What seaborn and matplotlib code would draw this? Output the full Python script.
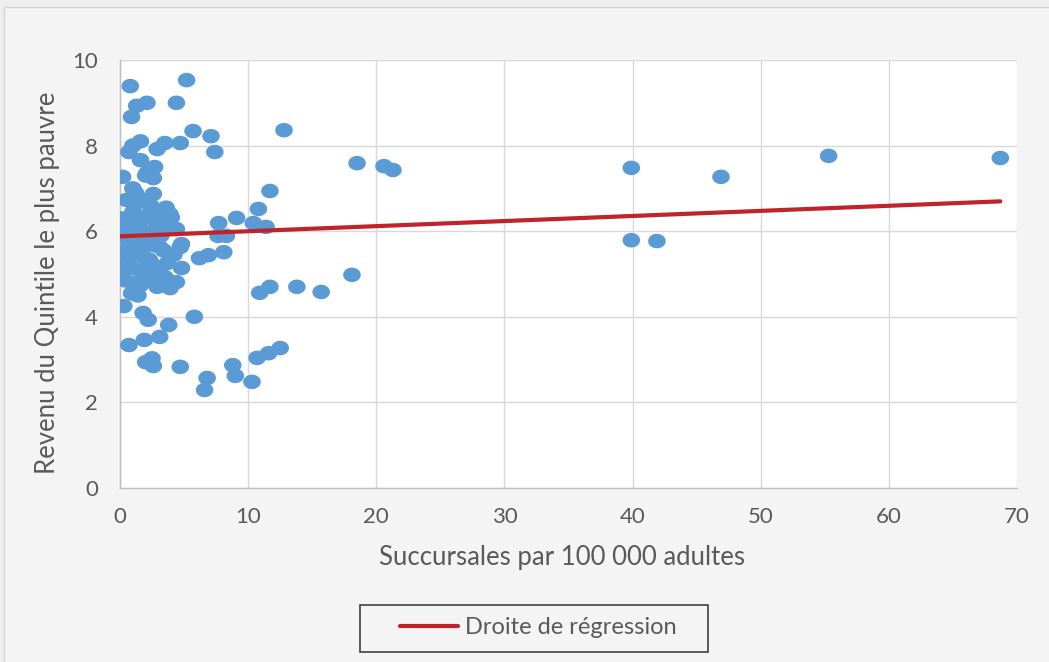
import numpy as np
import matplotlib
matplotlib.use("Agg")
import matplotlib.pyplot as plt
import seaborn as sns
from matplotlib.patches import Rectangle

# ---- data ----
branches = [
    68.7, 55.3, 46.9, 39.9, 39.9, 41.9, 20.6, 21.3, 18.5, 18.1,
    12.8, 11.7, 10.8, 10.4, 11.4, 13.8, 15.7, 11.7, 10.9, 12.5,
    11.6, 10.7, 10.3, 8.8, 9.0, 6.6, 6.8, 4.7, 5.8, 3.1,
    3.8, 1.9, 0.7, 1.8, 2.2, 0.3, 2.5, 2.6, 2.0,
    0.8, 5.2, 4.4, 2.1, 1.3, 0.9, 5.7, 7.1, 7.4, 1.6,
    1.0, 0.7, 3.5, 4.7, 2.9, 1.6, 2.1, 2.7, 2.6, 2.0,
    0.2, 1.0, 2.6, 9.1, 7.7, 0.5, 1.3, 1.8,
    8.3, 7.65, 8.1, 6.9, 6.2, 4.7, 4.8,
    0.2, 0.4, 0.4, 0.2, 0.5, 0.2, 0.2, 0.4, 1.3, 1.6,
    1.4, 2.9, 3.9, 4.4, 3.5, 1.8, 1.0, 2.3, 3.7, 1.2,
    1.8, 3.1, 2.0, 2.7, 1.0, 1.6, 2.3, 3.1, 3.9, 4.4,
    2.0, 2.9, 3.5, 1.4, 0.8, 2.5, 3.3, 4.0, 1.1, 1.7,
    2.5, 3.2, 0.7, 1.5, 2.6, 3.0, 4.2, 3.4, 2.2, 0.9,
    4.8, 1.2, 2.4, 3.6,
]
income = [
    7.71, 7.76, 7.27, 7.48, 5.79, 5.77, 7.52, 7.43, 7.59, 4.98,
    8.36, 6.94, 6.52, 6.19, 6.10, 4.70, 4.58, 4.70, 4.56, 3.27,
    3.15, 3.04, 2.48, 2.87, 2.62, 2.29, 2.57, 2.83, 4.00, 3.53,
    3.81, 3.46, 3.34, 4.09, 3.93, 4.25, 3.03, 2.85, 2.94,
    9.39, 9.53, 9.00, 9.00, 8.93, 8.67, 8.34, 8.22, 7.85, 8.10,
    8.00, 7.85, 8.06, 8.06, 7.92, 7.66, 7.36, 7.50, 7.24, 7.30,
    7.27, 7.00, 6.87, 6.31, 6.19, 6.73, 6.66, 6.73,
    5.89, 5.89, 5.51, 5.44, 5.37, 5.63, 5.14,
    6.30, 6.03, 5.84, 5.95, 5.56, 5.21, 4.90, 4.85, 4.81, 4.74,
    4.50, 4.70, 4.67, 4.81, 4.93, 5.09, 5.14, 5.33, 5.26, 5.60,
    5.63, 5.63, 5.37, 5.67, 6.45, 6.26, 6.42, 6.47, 6.40, 6.05,
    5.98, 6.07, 6.17, 6.13, 6.20, 6.30, 6.28, 6.32, 5.83, 5.80,
    5.85, 5.90, 5.40, 5.45, 5.20, 5.00, 5.45, 5.55, 4.85, 4.55,
    5.70, 6.90, 6.60, 6.55,
]
reg_intercept = 5.88
reg_slope = 0.0119
reg_x_range = [0.0, 68.7]

x_ticks = [0, 10, 20, 30, 40, 50, 60, 70]
y_ticks = [0, 2, 4, 6, 8, 10]
x_label = "Succursales par 100 000 adultes"
y_label = "Revenu du Quintile le plus pauvre"
legend_label = "Droite de régression"

# ---- style ----
sns.set_theme(style="white")
plt.rcParams["font.family"] = ["Lato", "DejaVu Sans"]
text_col = "#595959"

fig = plt.figure(figsize=(10.49, 6.62), dpi=100, facecolor="#eeeeee")
W, H = 1049, 662
bg = Rectangle((4 / W, -0.1), 1.2, 0.1 + (H - 7) / H, transform=fig.transFigure,
               facecolor="#f4f4f4", edgecolor="#d4d4d4", lw=1.0, zorder=-10)
fig.add_artist(bg)

ax = fig.add_axes([120 / W, 1 - 488 / H, (1017 - 120) / W, (488 - 60) / H])
ax.set_zorder(1)
ax.set_facecolor("white")

t = np.linspace(0, 2 * np.pi, 60)
ellipse = list(zip(1.21 * np.cos(t), np.sin(t)))

sns.scatterplot(x=branches, y=income, ax=ax, color="#5B9BD5", s=160,
                marker=ellipse, edgecolor="none", linewidth=0, zorder=3, legend=False)

reg_x = np.array(reg_x_range)
reg_y = reg_intercept + reg_slope * reg_x
sns.lineplot(x=reg_x, y=reg_y, ax=ax, color="#C0232B", lw=3.0, zorder=4,
             label=legend_label)

ax.set_xlim(0, 70)
ax.set_ylim(0, 10)
ax.set_xticks(x_ticks)
ax.set_yticks(y_ticks)
ax.grid(True, color="#d9d9d9", lw=1.0)
ax.set_axisbelow(True)
for s in ["top", "right"]:
    ax.spines[s].set_visible(False)
for s in ["left", "bottom"]:
    ax.spines[s].set_color("#bfbfbf")
    ax.spines[s].set_linewidth(1.0)
ax.tick_params(axis="both", colors="#bfbfbf", length=6, width=1.0, direction="out",
               labelcolor=text_col, labelsize=16)
ax.tick_params(axis="x", pad=8)
ax.tick_params(axis="y", pad=10)
ax.set_xlabel(x_label, fontsize=18.5, color=text_col)
ax.set_ylabel(y_label, fontsize=18.5, color=text_col)
ax.xaxis.set_label_coords((562 - 120) / 897, (488 - 545) / 428)
ax.yaxis.set_label_coords((60 - 120) / 897, 0.48)

leg = ax.legend(loc="center", bbox_to_anchor=(538 / W, 1 - 628 / H),
                bbox_transform=fig.transFigure, frameon=False,
                fontsize=17, handlelength=2.45, handletextpad=0.3,
                borderpad=0.3, borderaxespad=0)
for txt in leg.get_texts():
    txt.set_color(text_col)
fig.add_artist(Rectangle((360 / W, 1 - 652 / H), 348 / W, 47 / H, transform=fig.transFigure,
                         facecolor="none", edgecolor="#404040", lw=1.2, zorder=5))

fig.savefig("out.png", dpi=100, facecolor=fig.get_facecolor())
